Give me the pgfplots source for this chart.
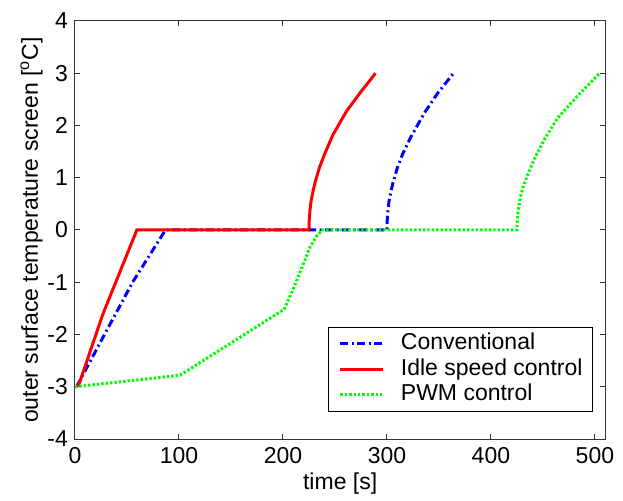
\documentclass[border=0pt]{standalone}
\usepackage{fontspec}
\setmainfont{Liberation Sans}
\usepackage{pgfplots}
\pgfplotsset{compat=1.18}

\newcommand{\chartfont}{\fontsize{11.5}{13.8}\selectfont}

\begin{document}
\begin{tikzpicture}
\begin{axis}[
  scale only axis,
  width=265.15pt, height=209pt,
  xmin=0, xmax=510, ymin=-4, ymax=4,
  xtick={0,100,200,300,400,500},
  ytick={-4,-3,-2,-1,0,1,2,3,4},
  tick align=inside,
  major tick length=2.5pt,
  axis line style={black!80, line width=0.5pt},
  every tick/.style={black!80, line width=0.5pt},
  /pgf/number format/assume math mode=true,
  tick label style={font=\chartfont, black},
  xticklabel style={yshift=-0.8pt},
  label style={font=\chartfont},
  xlabel={time [s]},
  ylabel={outer surface temperature screen [\textsuperscript{o}C]},
  xlabel style={at={(axis description cs:0.5,0)}, anchor=base, yshift=-25pt},
  ylabel style={at={(axis description cs:-0.07,0.5)}, anchor=base},
  legend cell align=left,
  legend style={
    font=\chartfont,
    at={(0.9768,0.0646)}, anchor=south east,
    draw=black, line width=0.5pt, fill=white,
    inner xsep=5pt, inner ysep=3pt,
    row sep=2pt, column sep=0pt,
    nodes={inner sep=0pt, text height=8.3pt, text depth=2.4pt},
  },
  legend image code/.code={\draw[#1] (0pt,0pt) -- (21.5pt,0pt);},
  legend columns=1,
]

% Conventional
\addplot[blue, line width=1.5pt,
  dash pattern=on 4pt off 1.75pt on 1pt off 1.75pt] coordinates {
  (1.5,-3) (30,-1.94) (56,-0.98) (87,0) (300,0) (300.3,0.2) (301,0.38)
  (302,0.55) (304,0.75) (306,0.92) (310,1.19) (315,1.45) (323,1.78)
  (336,2.24) (348.5,2.61) (364,3)
};
\addlegendentry{\hspace{8pt}Conventional}

% Idle speed control
\addplot[red, line width=1.5pt] coordinates {
  (3,-3) (27,-1.6) (59.5,0) (225,0) (225.3,0.2) (226,0.38) (227,0.55)
  (229,0.75) (231,0.92) (235,1.19) (240,1.45) (248,1.82) (261,2.27)
  (274,2.62) (289,3)
};
\addlegendentry{\hspace{8pt}Idle speed control}

% PWM control
\addplot[green, line width=1.5pt, dash pattern=on 1.2pt off 1pt] coordinates {
  (0,-3) (101,-2.78) (201,-1.52) (209,-1.17) (217,-0.78) (226,-0.33)
  (233,-0.1) (238,0) (425,0) (425.3,0.2) (426,0.34) (427,0.47)
  (428.7,0.66) (431,0.83) (435,1.04) (441.5,1.35) (451,1.72) (464,2.14)
  (483,2.56) (504.5,3)
};
\addlegendentry{\hspace{8pt}PWM control}

\end{axis}
\path (current axis.south west) +(-37.5pt,-27.5pt)
      (current axis.north east) +(8.85pt,10.5pt);
\end{tikzpicture}
\end{document}
